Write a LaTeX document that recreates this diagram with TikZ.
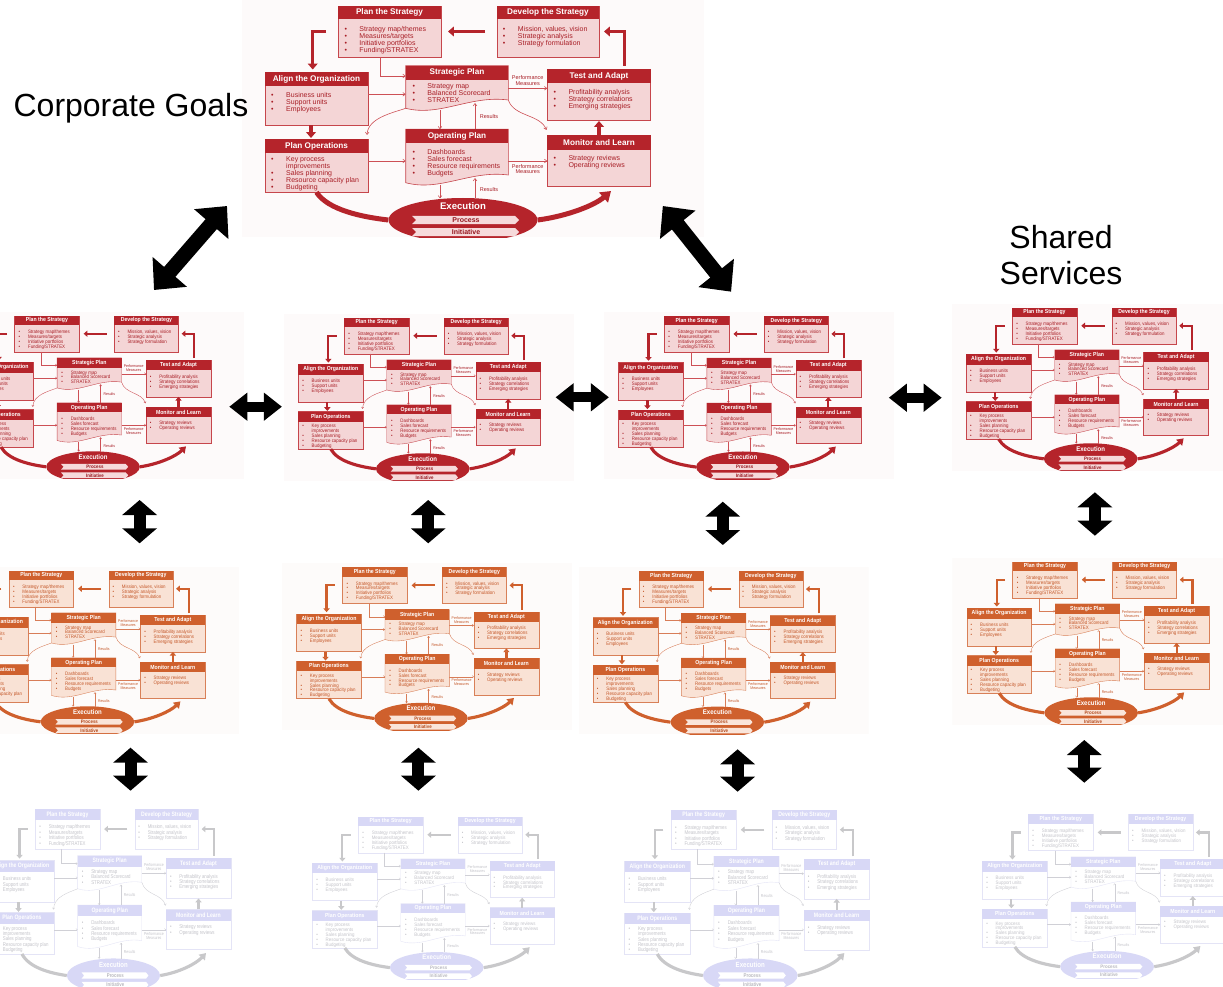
\documentclass[tikz,border=0pt]{standalone}
\usepackage{fontspec}
\setmainfont{Liberation Sans}
\usetikzlibrary{arrows.meta,shapes.geometric}
% colour sets: red, orange, faded
\definecolor{cHdred}{RGB}{181,36,43}\definecolor{cHtred}{RGB}{255,255,255}
\definecolor{cBdred}{RGB}{244,213,214}\definecolor{cBrred}{RGB}{198,70,76}
\definecolor{cTxred}{RGB}{168,30,38}\definecolor{cArred}{RGB}{181,36,43}
\definecolor{cLnred}{RGB}{205,80,86}\definecolor{cElred}{RGB}{181,36,43}
\definecolor{cPfred}{RGB}{246,218,219}\definecolor{cPtred}{RGB}{150,22,30}
\definecolor{cBgred}{RGB}{253,250,250}
\definecolor{cHdorg}{RGB}{207,96,45}\definecolor{cHtorg}{RGB}{255,255,255}
\definecolor{cBdorg}{RGB}{249,226,213}\definecolor{cBrorg}{RGB}{216,128,88}
\definecolor{cTxorg}{RGB}{196,88,42}\definecolor{cArorg}{RGB}{207,96,45}
\definecolor{cLnorg}{RGB}{216,125,88}\definecolor{cElorg}{RGB}{207,96,45}
\definecolor{cPforg}{RGB}{250,229,218}\definecolor{cPtorg}{RGB}{180,75,30}
\definecolor{cBgorg}{RGB}{253,251,250}
\definecolor{cHdfade}{RGB}{216,216,246}\definecolor{cHtfade}{RGB}{255,255,255}
\definecolor{cBdfade}{RGB}{255,255,255}\definecolor{cBrfade}{RGB}{228,228,246}
\definecolor{cTxfade}{RGB}{196,196,202}\definecolor{cArfade}{RGB}{200,200,202}
\definecolor{cLnfade}{RGB}{208,208,214}\definecolor{cElfade}{RGB}{216,216,246}
\definecolor{cPffade}{RGB}{255,255,255}\definecolor{cPtfade}{RGB}{185,185,192}
\definecolor{cBgfade}{RGB}{255,255,255}
\newcommand\usescheme[1]{\colorlet{cHd}{cHd#1}\colorlet{cHt}{cHt#1}\colorlet{cBd}{cBd#1}%
  \colorlet{cBr}{cBr#1}\colorlet{cTx}{cTx#1}\colorlet{cAr}{cAr#1}\colorlet{cLn}{cLn#1}%
  \colorlet{cEl}{cEl#1}\colorlet{cPf}{cPf#1}\colorlet{cPt}{cPt#1}\colorlet{cBg}{cBg#1}}
\newcommand\itb{\makebox[15pt][l]{\textbullet}}
\newcommand\itn{\hspace*{15pt}}
\def\lw{1}
\tikzset{
  box/.style={draw=cBr,fill=cBd,line width=.6pt*\lw,inner sep=0pt,transform shape},
  hdr/.style={fill=cHd,text=cHt,inner sep=0pt,transform shape,font=\bfseries\fontsize{8.2}{9}\selectfont},
  itm/.style={anchor=north west,align=left,inner sep=0pt,text=cTx,transform shape,font=\fontsize{7}{7}\selectfont},
  doc/.style={draw=cBr,fill=cBd,line width=.6pt*\lw},
  thk/.style={draw=cAr,line width=3.5pt*\lw,-{Triangle[width=0pt 2.8,length=0pt 1.7]}},
  crv/.style={draw=cAr,line width=5pt*\lw},
  lnk/.style={draw=cLn,line width=.6pt*\lw,-{Straight Barb[width=0pt 6,length=0pt 4]}},
  lbl/.style={align=center,inner sep=0pt,text=cTx,transform shape,font=\fontsize{5.5}{5.5}\selectfont},
  exe/.style={ellipse,fill=cEl,minimum width=149,minimum height=44,inner sep=0pt,transform shape},
  exetxt/.style={inner sep=0pt,text=cHt,transform shape,font=\bfseries\fontsize{9.6}{10}\selectfont},
  bar/.style={inner sep=0pt,text=cPt,transform shape,font=\bfseries\fontsize{7}{7}\selectfont},
  blkv/.style={line width=12pt,{Triangle[width=34pt,length=15pt]}-{Triangle[width=34pt,length=15pt]}},
  blkh/.style={line width=10pt,{Triangle[width=27pt,length=18pt]}-{Triangle[width=27pt,length=18pt]}},
  blkd/.style={line width=15pt,{Triangle[width=44pt,length=24pt]}-{Triangle[width=44pt,length=24pt]}},
  big/.style={font=\fontsize{32}{36.7}\selectfont,inner sep=0pt,align=center},
}
% one strategy map, drawn in the frame of the top copy
\newcommand\stratmap{%
  \node[box,minimum width=103,minimum height=51](plan)at(389.5,31.5){};
  \node[hdr,minimum width=103,minimum height=13.5](plan-h)at(389.5,12.75){Plan the Strategy};
  \node[itm](plan-t)at(344.3,25.8){\itb Strategy map/themes\\\itb Measures/targets\\\itb Initiative portfolios\\\itb Funding/STRATEX};
  \node[box,minimum width=102,minimum height=51](dev)at(548,31.5){};
  \node[hdr,minimum width=102,minimum height=13.5](dev-h)at(548,12.75){Develop the Strategy};
  \node[itm](dev-t)at(502.7,25.8){\itb Mission, values, vision\\\itb Strategic analysis\\\itb Strategy formulation};
  \node[box,minimum width=103,minimum height=53](align)at(316.5,98.5){};
  \node[hdr,minimum width=103,minimum height=14.5](align-h)at(316.5,79.25){Align the Organization};
  \node[itm](align-t)at(271,92.5){\itb Business units\\\itb Support units\\\itb Employees};
  \node[box,minimum width=103,minimum height=53](ops)at(316.5,165.5){};
  \node[hdr,minimum width=103,minimum height=14.5](ops-h)at(316.5,146.25){Plan Operations};
  \node[itm](ops-t)at(271,156.5){\itb Key process\\\itn improvements\\\itb Sales planning\\\itb Resource capacity plan\\\itb Budgeting};
  \node[box,minimum width=103.4,minimum height=51.7](test)at(599,94.85){};
  \node[hdr,minimum width=103.4,minimum height=14.3](test-h)at(599,76.15){Test and Adapt};
  \node[itm](test-t)at(553.3,89.2){\itb Profitability analysis\\\itb Strategy correlations\\\itb Emerging strategies};
  \node[box,minimum width=103.4,minimum height=51.7](mon)at(599,160.85){};
  \node[hdr,minimum width=103.4,minimum height=15](mon-h)at(599,142.5){Monitor and Learn};
  \node[itm](mon-t)at(553.3,154.8){\itb Strategy reviews\\\itb Operating reviews};
  \filldraw[doc](405.7,65.7)--(508.3,65.7)--(508.3,100)..controls(470,95)and(440,117)..(405.7,108.3)--cycle;
  \node[hdr,minimum width=102.6,minimum height=14.3](strat-h)at(457,72.85){Strategic Plan};
  \node[itm](strat-t)at(412.3,83.5){\itb Strategy map\\\itb Balanced Scorecard\\\itb STRATEX};
  \filldraw[doc](405.7,129.3)--(508.3,129.3)--(508.3,175)..controls(470,170)and(440,192)..(405.7,182.7)--cycle;
  \node[hdr,minimum width=102.6,minimum height=13.7](oper-h)at(457,136.15){Operating Plan};
  \node[itm](oper-t)at(412.3,149.2){\itb Dashboards\\\itb Sales forecast\\\itb Resource requirements\\\itb Budgets};
  \node[exe](exec)at(463,220){};
  \node[exetxt](exec-t)at(463,205.7){Execution};
  \fill[cPf](412,216)--(515,216)--(519,220)--(515,224)--(412,224)--(416,220)--cycle;
  \node[bar](proc)at(466,220){Process};
  \fill[cPf](412,228)--(515,228)--(519,232)--(515,236)--(412,236)--(416,232)--cycle;
  \node[bar](init)at(466,232){Initiative};
  % thick arrows round the cycle
  \coordinate(a1)at(326,31.5);\coordinate(a2)at(312.7,69.5);
  \draw[thk](a1)-|(a2);
  \coordinate(a3)at(485,31.5);\coordinate(a4)at(448,31.5);
  \draw[thk](a3)--(a4);
  \coordinate(a5)at(624.3,66);\coordinate(a6)at(604,31.5);
  \draw[thk](a5)|-(a6);
  \coordinate(a7)at(311,125.5);\coordinate(a8)at(311,138);
  \draw[thk](a7)--(a8);
  \draw[thk](mon.north)--(test.south);
  % thin links
  \coordinate(b1)at(380,57);\coordinate(b2)at(405.7,76);
  \draw[lnk](b1)|-(b2);
  \coordinate(b3)at(368,94.3);\coordinate(b4)at(405.7,94.3);
  \draw[lnk](b3)--(b4);
  \coordinate(b5)at(508.3,88.3);\coordinate(b6)at(547.3,88.3);
  \draw[lnk](b5)--(b6);
  \node[lbl](pm1)at(527.7,80.7){Performance\\Measures};
  \coordinate(b7)at(440,110.5);\coordinate(b8)at(440,129.3);
  \draw[lnk](b7)--(b8);
  \coordinate(b9)at(475,129.3);\coordinate(b10)at(475,103);
  \draw[lnk](b9)--(b10);
  \node[lbl](res1)at(489,116.7){Results};
  \coordinate(b11)at(405.7,108.3);\coordinate(b12)at(367,135);
  \draw[lnk](b11)..controls(392,113)and(368,118)..(b12);
  \coordinate(b13)at(508.3,100);\coordinate(b14)at(546.5,130);
  \draw[lnk](b13)..controls(514,117)and(540,114)..(b14);
  \coordinate(b15)at(368,161);\coordinate(b16)at(405.7,161);
  \draw[lnk](b15)--(b16);
  \coordinate(b17)at(508.3,161);\coordinate(b18)at(547.3,161);
  \draw[lnk](b17)--(b18);
  \node[lbl](pm2)at(527.7,169){Performance\\Measures};
  \coordinate(b19)at(440,185);\coordinate(b20)at(440,198.5);
  \draw[lnk](b19)--(b20);
  \coordinate(b21)at(475,198.5);\coordinate(b22)at(475,178);
  \draw[lnk](b21)--(b22);
  \node[lbl](res2)at(489,190){Results};
  % big curve under the plan
  \draw[crv](ops.south)..controls(328,210)and(362,217)..(exec.west);
  \coordinate(c1)at(611,191);
  \draw[crv,-{Triangle[width=0pt 2.6,length=0pt 2]}](exec.east)..controls(568,216)and(595,205)..(c1);
}
\begin{document}
\begin{tikzpicture}[x=1pt,y=-1pt]
\useasboundingbox(0,0)rectangle(1223,987);
\fill[white](0,0)rectangle(1223,987);
\foreach \nm/\ox/\oy/\sx/\sy/\scm in {top/0/0/1/1/red,
  r2c1/-197.7/311.5/.628/.706/red,r2c2/132/313.5/.628/.706/red,
  r2c3/452.1/311.7/.628/.706/red,r2c4/799.9/303.5/.628/.706/red,
  r3c1/-203.3/566.5/.628/.706/org,r3c2/130.2/563.1/.628/.706/org,
  r3c3/426.6/566.8/.628/.706/org,r3c4/800.4/557.5/.628/.706/org,
  r4c1/-175.9/804.6/.625/.777/fade,r4c2/146/812.5/.628/.705/fade,
  r4c3/456.3/805.4/.635/.773/fade,r4c4/815.4/810/.63/.712/fade}{
  \begin{scope}[shift={(\ox,\oy)},xscale=\sx,yscale=\sy,name prefix=\nm-]
    \usescheme{\scm}\def\lw{\sx}%
    \clip(242,0)rectangle(704,237);
    \fill[cBg](242,0)rectangle(704,237);
    \stratmap
  \end{scope}
}
% black arrows between the maps
\foreach \i/\xa/\ya/\xb/\yb in {1/154/290/227/206,2/662.8/206/731.1/291.7}{
  \coordinate(d\i a)at(\xa,\ya);\coordinate(d\i b)at(\xb,\yb);
  \draw[blkd](d\i a)--(d\i b);
}
\foreach \i/\xa/\xb/\y in {1/229.3/281.9/406.7,2/555.6/608.9/397.3,3/888.8/941.7/397.7}{
  \coordinate(h\i a)at(\xa,\y);\coordinate(h\i b)at(\xb,\y);
  \draw[blkh](h\i a)--(h\i b);
}
\foreach \i/\x/\ya/\yb in {1/139.6/500/543.3,2/428.2/500/543.3,3/722.8/501.7/545,4/1094.9/492.3/535.7,
  5/130.5/747.7/790.7,6/418.4/747.7/790.7,7/737.6/749.3/791.7,8/1084.3/740/782.7}{
  \coordinate(v\i a)at(\x,\ya);\coordinate(v\i b)at(\x,\yb);
  \draw[blkv](v\i a)--(v\i b);
}
\node[big,anchor=base](corp)at(131,116.7){Corporate Goals};
\node[big](shared)at(1061,255){Shared\\Services};
\end{tikzpicture}
\end{document}
